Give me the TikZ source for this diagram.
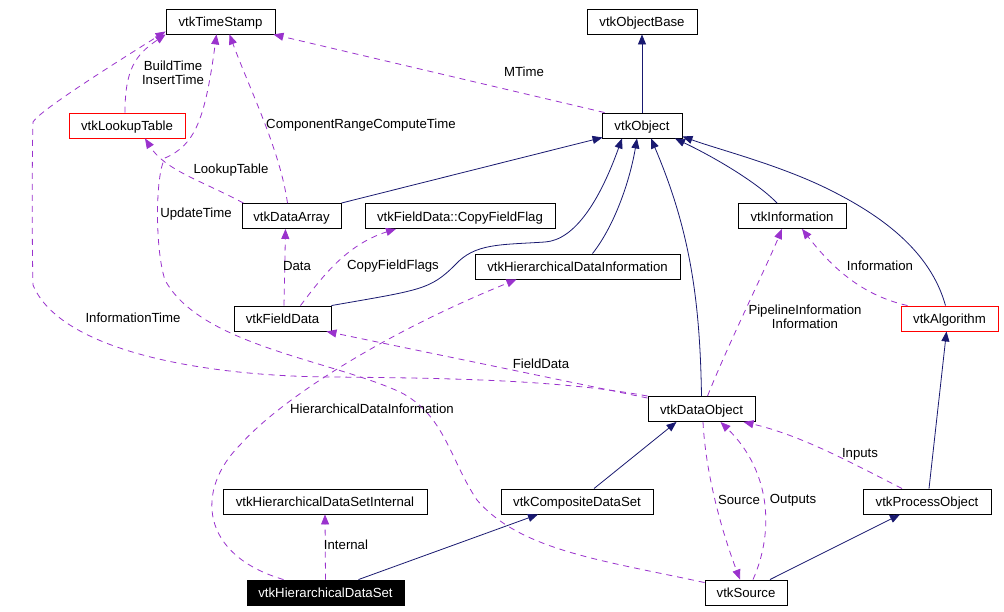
\documentclass[tikz,border=0pt]{standalone}
\usepackage{fontspec}
\setmainfont{Liberation Sans}
\usetikzlibrary{arrows.meta}
\definecolor{usecol}{RGB}{154,50,205}
\definecolor{inhcol}{RGB}{25,25,112}
\begin{document}
\begin{tikzpicture}[x=1pt,y=-1pt,
 cls/.style={draw=black,line width=0.9pt,minimum height=25pt,inner sep=0pt,text height=10.5pt,text depth=0pt,font=\fontsize{13.2}{15}\selectfont},
 redcls/.style={cls,draw=red},
 lbl/.style={inner sep=0pt,font=\fontsize{13.2}{14}\selectfont,align=center},
 inh/.style={draw=inhcol,line width=0.8pt,-{Triangle[length=10pt,width=8pt]}},
 use/.style={draw=usecol,line width=0.8pt,dash pattern=on 6pt off 5pt,-{Triangle[length=10pt,width=8pt]}}]
\fill[white] (0,0) rectangle (1004,612);
\useasboundingbox (0,0) rectangle (1004,612);

% classes
\node[cls,minimum width=109pt] (ts) at (220.5,21.5) {vtkTimeStamp};
\node[cls,minimum width=110pt] (ob) at (642,21.5) {vtkObjectBase};
\node[redcls,minimum width=116pt] (lt) at (127,125.5) {vtkLookupTable};
\node[cls,minimum width=80pt] (o) at (642,125.5) {vtkObject};
\node[cls,minimum width=99pt] (da) at (291.5,216) {vtkDataArray};
\node[cls,minimum width=190pt] (cff) at (460,216) {vtkFieldData::CopyFieldFlag};
\node[cls,minimum width=108pt] (inf) at (792,216) {vtkInformation};
\node[cls,minimum width=205pt] (hdi) at (577.5,266.5) {vtkHierarchicalDataInformation};
\node[cls,minimum width=97pt] (fd) at (282.5,318.5) {vtkFieldData};
\node[redcls,minimum width=97pt] (alg) at (949.5,318.5) {vtkAlgorithm};
\node[cls,minimum width=107pt] (dobj) at (701.5,409) {vtkDataObject};
\node[cls,minimum width=204pt] (hdsi) at (325,501.5) {vtkHierarchicalDataSetInternal};
\node[cls,minimum width=152pt] (cds) at (577,501.5) {vtkCompositeDataSet};
\node[cls,minimum width=128pt] (po) at (927,501.5) {vtkProcessObject};
\node[cls,fill=black,text=white,minimum width=157pt] (hds) at (325.5,592.5) {vtkHierarchicalDataSet};
\node[cls,minimum width=82pt] (src) at (746,592.5) {vtkSource};

% inheritance
\draw[inh] (o.north) -- (ob.south);
\draw[inh] (da.north east) -- ([xshift=1pt,yshift=1pt]o.south west);
\draw[inh] (fd.north east) .. controls (420,290) and (430,290) .. (455,265)
  .. controls (475,243) and (500,245) .. (545,242)
  .. controls (575,240) and (600,200) .. ([xshift=-20pt]o.south);
\draw[inh] ([xshift=15pt]hdi.north) .. controls (615,225) and (630,180) .. ([xshift=-5pt]o.south);
\draw[inh] (dobj.north) .. controls (700,300) and (690,230) .. ([xshift=9pt]o.south);
\draw[inh] ([xshift=-15pt]inf.north) .. controls (760,185) and (720,160) .. ([xshift=33pt]o.south);
\draw[inh] ([xshift=-4pt]alg.north) .. controls (930,250) and (880,215) .. (830,190)
  .. controls (780,165) and (720,150) .. ([yshift=2pt]o.south east);
\draw[inh] ([xshift=17pt]cds.north) -- ([xshift=-25pt]dobj.south);
\draw[inh] ([xshift=2pt]po.north) -- ([xshift=-3pt]alg.south);
\draw[inh] ([xshift=33pt]hds.north) -- ([xshift=-39pt]cds.south);
\draw[inh] ([xshift=24pt]src.north) -- ([xshift=-27pt]po.south);

% usage
\draw[use] ([xshift=-2pt]lt.north) .. controls (125,70) and (135,55) .. (ts.south west);
\draw[use] ([xshift=3pt]o.north west) -- ([xshift=-2pt]ts.south east);
\draw[use] ([xshift=-4pt]da.north) .. controls (280,150) and (250,90) .. ([xshift=9pt]ts.south);
\draw[use] ([xshift=-48pt]da.north) .. controls (200,180) and (165,170) .. ([xshift=18pt]lt.south);
\draw[use] ([xshift=1.5pt]fd.north) -- ([xshift=-6pt]da.south);
\draw[use] ([xshift=18pt]fd.north) .. controls (320,280) and (345,245) .. ([xshift=-64pt]cff.south);
\draw[use] ([yshift=-2pt]dobj.north west) -- ([xshift=-5pt]fd.south east);
\draw[use] ([xshift=-42pt]hds.north) .. controls (200,555) and (195,490) .. (240,445)
  .. controls (280,400) and (380,335) .. ([xshift=-61pt]hdi.south);
\draw[use] (hds.north) -- (hdsi.south);
\draw[use] ([xshift=6pt]dobj.north) .. controls (730,340) and (765,270) .. ([xshift=-10pt]inf.south);
\draw[use] ([xshift=-42pt]alg.north) .. controls (860,295) and (830,265) .. ([xshift=10pt]inf.south);
\draw[use] (dobj.north west) .. controls (560,380) and (450,378) .. (330,377)
  .. controls (200,376) and (60,350) .. (33,285)
  .. controls (32,250) and (32,150) .. (33,122)
  .. controls (40,110) and (120,60) .. ([yshift=3pt]ts.south west);
\draw[use] ([yshift=-3pt]src.north west) .. controls (600,560) and (520,550) .. (477,500)
  .. controls (450,460) and (445,415) .. (400,392)
  .. controls (330,360) and (200,345) .. (165,280)
  .. controls (155,250) and (155,175) .. (165,158)
  .. controls (195,145) and (205,120) .. ([xshift=-4pt]ts.south);
\draw[use] ([xshift=1.5pt]dobj.south) .. controls (706,480) and (725,540) .. ([xshift=-6pt]src.north);
\draw[use] ([xshift=7pt]src.north) .. controls (775,530) and (770,470) .. ([xshift=19pt]dobj.south);
\draw[use] ([xshift=-25pt]po.north) .. controls (850,462) and (800,435) .. ([xshift=42pt]dobj.south);

% labels
\node[lbl] (l1) at (173,73) {BuildTime\\InsertTime};
\node[lbl] (l2) at (524,72) {MTime};
\node[lbl] (l3) at (361,125) {ComponentRangeComputeTime};
\node[lbl] (l4) at (231,170) {LookupTable};
\node[lbl] (l5) at (297,266) {Data};
\node[lbl] (l6) at (393,266) {CopyFieldFlags};
\node[lbl] (l7) at (541,364) {FieldData};
\node[lbl] (l8) at (372,409) {HierarchicalDataInformation};
\node[lbl] (l9) at (346,545) {Internal};
\node[lbl] (l10) at (805,317) {PipelineInformation\\Information};
\node[lbl] (l11) at (880,266) {Information};
\node[lbl] (l12) at (133,318) {InformationTime};
\node[lbl] (l13) at (196,214) {UpdateTime};
\node[lbl] (l14) at (739,500) {Source};
\node[lbl] (l15) at (793,500) {Outputs};
\node[lbl] (l16) at (860,454) {Inputs};
\end{tikzpicture}
\end{document}
